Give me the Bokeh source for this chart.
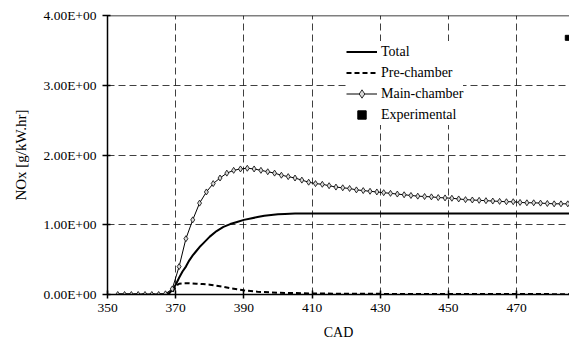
from bokeh.plotting import figure
from bokeh.models import (Range1d, FixedTicker, CustomJSTickFormatter, Legend,
                          LegendItem, Span)
from bokeh.embed import file_html
from bokeh.resources import INLINE

# ---- data ----
main_cad = list(range(353, 486, 2))
main_nox = [0, 0, 0, 0, 0, 0, 0, 0.01,
            0.08, 0.40, 0.80, 1.07, 1.31, 1.47, 1.59, 1.67, 1.74, 1.78, 1.80, 1.81,
            1.80, 1.78, 1.76, 1.74, 1.71, 1.69, 1.67, 1.64, 1.61, 1.59, 1.58, 1.56,
            1.54, 1.53, 1.52, 1.50, 1.49, 1.48, 1.47, 1.46, 1.45, 1.44, 1.43, 1.42,
            1.41, 1.405, 1.40, 1.39, 1.385, 1.38, 1.37, 1.36, 1.355, 1.35, 1.345,
            1.34, 1.335, 1.33, 1.33, 1.32, 1.315, 1.315, 1.31, 1.305, 1.30, 1.30, 1.30]

total_cad = [353, 366, 367, 368, 369, 370, 371, 372, 373, 374, 375, 376, 377, 378,
             380, 382, 384, 386, 388, 390, 392, 394, 396, 398, 400, 402, 405, 420, 450, 485.5]
total_nox = [0, 0, 0.005, 0.02, 0.06, 0.14, 0.24, 0.33, 0.40, 0.49, 0.56, 0.62, 0.68, 0.73,
             0.83, 0.91, 0.97, 1.01, 1.04, 1.07, 1.09, 1.11, 1.13, 1.14, 1.15, 1.155,
             1.16, 1.16, 1.16, 1.16]

pre_cad = [353, 368, 369, 370, 371, 372, 374, 376, 378, 380, 382, 384, 386, 388, 390,
           392, 394, 396, 398, 400, 405, 410, 420, 440, 485.5]
pre_nox = [0, 0, 0.03, 0.12, 0.155, 0.16, 0.16, 0.155, 0.15, 0.14, 0.125, 0.11, 0.09,
           0.075, 0.06, 0.05, 0.04, 0.035, 0.03, 0.025, 0.02, 0.015, 0.01, 0.008, 0.005]

exp_cad = [485]
exp_nox = [3.68]

x_ticks = [350, 370, 390, 410, 430, 450, 470]
y_ticks = [0, 1, 2, 3, 4]

FONT = "'Liberation Serif', 'Times New Roman', serif"

p = figure(width=569, height=347, output_backend="svg", toolbar_location=None,
           x_range=Range1d(350, 485.5), y_range=Range1d(0, 4),
           min_border_left=107, min_border_right=0, min_border_top=15,
           min_border_bottom=53, background_fill_color="white",
           border_fill_color="white")
p.outline_line_color = None

# axes
p.xaxis.ticker = FixedTicker(ticks=x_ticks)
p.yaxis.ticker = FixedTicker(ticks=y_ticks)
p.yaxis.formatter = CustomJSTickFormatter(code="""
const s = tick.toExponential(2);
const parts = s.split('e');
const e = parts[1];
const sign = e[0] === '-' ? '-' : '+';
let d = e.replace(/^[+-]/, '');
if (d.length < 2) { d = '0' + d; }
return parts[0] + 'E' + sign + d;
""")
p.xaxis.axis_label = "CAD"
p.yaxis.axis_label = "NOx [g/kW.hr]"
for ax in (p.xaxis[0], p.yaxis[0]):
    ax.axis_line_color = "black"
    ax.axis_line_width = 1.5
    ax.major_tick_line_color = "black"
    ax.major_tick_line_width = 1.5
    ax.minor_tick_line_color = None
    ax.major_label_text_font = FONT
    ax.major_label_text_font_size = "13.5px"
    ax.major_label_text_color = "black"
    ax.axis_label_text_font = FONT
    ax.axis_label_text_font_style = "normal"
    ax.axis_label_text_color = "black"
p.xaxis.axis_label_text_font_size = "14px"
p.yaxis.axis_label_text_font_size = "15px"
p.xaxis.major_tick_in = 4
p.xaxis.major_tick_out = 4
p.yaxis.major_tick_in = 3
p.yaxis.major_tick_out = 5
p.xaxis.major_label_standoff = 5
p.yaxis.major_label_standoff = 6
p.xaxis.axis_label_standoff = 10
p.yaxis.axis_label_standoff = 12

# grids
p.xgrid.ticker = FixedTicker(ticks=[370, 390, 410, 430, 450, 470])
p.ygrid.ticker = FixedTicker(ticks=[1, 2, 3])
for g in (p.xgrid[0], p.ygrid[0]):
    g.grid_line_color = "black"
    g.grid_line_alpha = 0.75
    g.grid_line_width = 1
    g.grid_line_dash = "7 4"

# top border line
p.add_layout(Span(location=4, dimension="width", line_color="black", line_width=1.5))

# series
r_total = p.line(total_cad, total_nox, line_color="black", line_width=2)
r_pre = p.line(pre_cad, pre_nox, line_color="black", line_width=2, line_dash="5 3")
r_main_l = p.line(main_cad, main_nox, line_color="black", line_width=1)
r_main_m = p.scatter(main_cad, main_nox, marker="diamond", size=6,
                     fill_color="#d9d9d9", line_color="black", line_width=0.8)
r_exp = p.scatter(exp_cad, exp_nox, marker="square", size=5,
                  fill_color="black", line_color="black")

legend = Legend(items=[
    LegendItem(label="Total", renderers=[r_total]),
    LegendItem(label="Pre-chamber", renderers=[r_pre]),
    LegendItem(label="Main-chamber", renderers=[r_main_l, r_main_m]),
    LegendItem(label="Experimental", renderers=[r_exp]),
], location=(239, 169))
legend.border_line_color = None
legend.background_fill_color = "white"
legend.background_fill_alpha = 1
legend.label_text_font = FONT
legend.label_text_font_size = "14px"
legend.label_text_color = "black"
legend.glyph_width = 31
legend.glyph_height = 21
legend.label_height = 21
legend.spacing = 0
legend.padding = 4
legend.margin = 0
legend.label_standoff = 4
p.add_layout(legend)

open("out.html", "w").write(file_html(p, INLINE))
